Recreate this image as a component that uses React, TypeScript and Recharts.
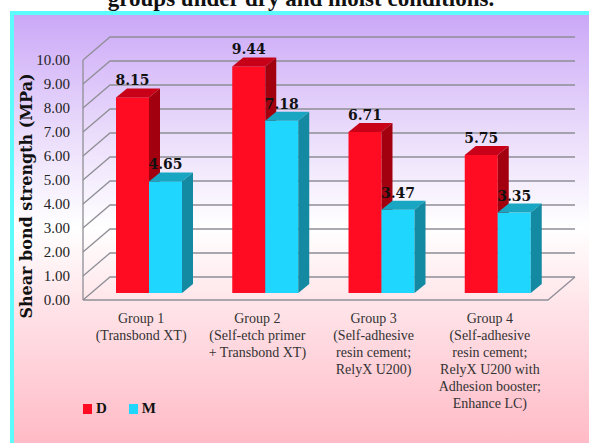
import { BarChart, Bar, XAxis, YAxis, CartesianGrid, LabelList, Legend } from "recharts";

const groups = [
  "Group 1\n(Transbond XT)",
  "Group 2\n(Self-etch primer\n+ Transbond XT)",
  "Group 3\n(Self-adhesive\nresin cement;\nRelyX U200)",
  "Group 4\n(Self-adhesive\nresin cement;\nRelyX U200 with\nAdhesion booster;\nEnhance LC)",
];
const dryValues = [8.15, 9.44, 6.71, 5.75];
const moistValues = [4.65, 7.18, 3.47, 3.35];
const yTicks = [0, 1, 2, 3, 4, 5, 6, 7, 8, 9, 10];

const data = groups.map((g, i) => ({ group: g, D: dryValues[i], M: moistValues[i] }));

// depth of the back wall, and how far the bars sit behind the front plane
const WALL_DX = 27;
const WALL_DY = 23;
const BAR_DX = 8;
const BAR_DY = 7;
// depth of each bar
const DEPTH_X = 11;
const DEPTH_Y = 9;

const SERIF = "'Liberation Serif', 'DejaVu Serif', serif";
const GRID = "#8f8f96";

function GridLine(p: any) {
  const { x1, x2, y1 } = p;
  const bottom = p.y + p.height;
  const top = p.y;
  const parts = [`M${x1},${y1} L${x1 + WALL_DX},${y1 - WALL_DY} L${x2 + WALL_DX},${y1 - WALL_DY}`];
  if (Math.abs(y1 - bottom) < 1) {
    // floor: front edge + right diagonal
    parts.push(`M${x1},${y1} L${x2},${y1} L${x2 + WALL_DX},${y1 - WALL_DY}`);
  }
  if (Math.abs(y1 - top) < 1) {
    parts.push(`M${x1},${top} L${x1},${bottom}`);
  }
  return <path key={p.key} d={parts.join(" ")} stroke={GRID} strokeWidth={1.3} fill="none" />;
}

function Bar3D(p: any, front: string, topC: string, sideC: string) {
  const { x, y, width, height } = p;
  if (width == null || height == null) return <g />;
  const fx = x + BAR_DX;
  const fy = y - BAR_DY;
  const w = width;
  const h = height;
  return (
    <g>
      <rect x={fx} y={fy} width={w} height={h} fill={front} />
      <path
        d={`M${fx},${fy} L${fx + w},${fy} L${fx + w + DEPTH_X},${fy - DEPTH_Y} L${fx + DEPTH_X},${fy - DEPTH_Y} Z`}
        fill={topC}
      />
      <path
        d={`M${fx + w},${fy} L${fx + w + DEPTH_X},${fy - DEPTH_Y} L${fx + w + DEPTH_X},${fy + h - DEPTH_Y} L${fx + w},${fy + h} Z`}
        fill={sideC}
      />
    </g>
  );
}

function ValueLabel(p: any) {
  const vb = p.viewBox || {};
  const x = p.x ?? vb.x;
  const y = p.y ?? vb.y;
  const width = p.width ?? vb.width;
  return (
    <text
      x={x + BAR_DX + width / 2}
      y={y - BAR_DY - 12}
      textAnchor="middle"
      fontFamily="'DejaVu Serif', serif"
      fontWeight="bold"
      fontSize={14}
      fill="#111"
    >
      {Number(p.value).toFixed(2)}
    </text>
  );
}

function GroupTick(p: any) {
  const lines = String(p.payload.value).split("\n");
  return (
    <text x={p.x} y={p.y + 15} textAnchor="middle" fontFamily={SERIF} fontSize={14} fill="#333">
      {lines.map((l, i) => (
        <tspan key={i} x={p.x} dy={i === 0 ? 0 : 17}>
          {l}
        </tspan>
      ))}
    </text>
  );
}

function LegendBox({ payload }: any) {
  return (
    <div style={{ display: "flex", alignItems: "center" }}>
      {(payload || []).map((e: any) => (
        <div key={e.value} style={{ display: "flex", alignItems: "center", marginRight: 22 }}>
          <span style={{ width: 9, height: 10, background: e.color, display: "inline-block", marginRight: 4 }} />
          <span style={{ fontFamily: SERIF, fontWeight: "bold", fontSize: 15, color: "#111" }}>{e.value}</span>
        </div>
      ))}
    </div>
  );
}

export default function App() {
  return (
    <div style={{ position: "absolute", left: 0, top: 0, width: 589, height: 443, overflow: "hidden", background: "#fff" }}>
      <div
        style={{
          position: "absolute",
          left: 10,
          top: 11,
          width: 600,
          height: 460,
          boxSizing: "border-box",
          border: "4px solid #5dfcfc",
          background: "linear-gradient(to bottom, #cba8f7 0%, #e9dafb 25%, #ffffff 47%, #ffe3e8 65%, #ffb3c0 100%)",
        }}
      />
      <svg width={589} height={20} style={{ position: "absolute", left: 0, top: 0 }}>
        <text x={301} y={6} textAnchor="middle" fontFamily={SERIF} fontWeight="bold" fontSize={23} fill="#111">
          groups under dry and moist conditions.
        </text>
      </svg>
      <div style={{ position: "absolute", left: 0, top: 0 }}>
        <BarChart
          width={589}
          height={443}
          data={data}
          margin={{ top: 60, right: 41, bottom: 113, left: 23 }}
          barGap={0}
          barSize={33}
        >
          <CartesianGrid vertical={false} horizontal={GridLine as any} />
          <XAxis dataKey="group" axisLine={false} tickLine={false} height={30} interval={0} tick={GroupTick} />
          <YAxis
            width={60}
            domain={[0, 10]}
            ticks={yTicks}
            axisLine={false}
            tickLine={false}
            tickMargin={7}
            tickFormatter={(v: number) => v.toFixed(2)}
            tick={{ fontFamily: SERIF, fontSize: 15, fill: "#222" }}
            label={{
              content: () => (
                <text
                  x={26}
                  y={196}
                  transform="rotate(-90, 26, 196)"
                  textAnchor="middle"
                  dominantBaseline="central"
                  fontFamily="'DejaVu Serif', serif"
                  fontWeight="bold"
                  fontSize={16}
                  fill="#111"
                >
                  Shear bond strength (MPa)
                </text>
              ),
            }}
          />
          <Legend
            verticalAlign="middle"
            layout="horizontal"
            wrapperStyle={{ top: 400, left: 83, width: "auto" }}
            content={LegendBox}
          />
          <Bar
            dataKey="D"
            name="D"
            fill="#ff0b22"
            isAnimationActive={false}
            shape={(p: any) => Bar3D(p, "#ff0b22", "#c80018", "#a3000f")}
          >
            <LabelList dataKey="D" content={ValueLabel} />
          </Bar>
          <Bar
            dataKey="M"
            name="M"
            fill="#1fd6ff"
            isAnimationActive={false}
            shape={(p: any) => Bar3D(p, "#1fd6ff", "#18a6c2", "#138aa1")}
          >
            <LabelList dataKey="M" content={ValueLabel} />
          </Bar>
        </BarChart>
      </div>
    </div>
  );
}
